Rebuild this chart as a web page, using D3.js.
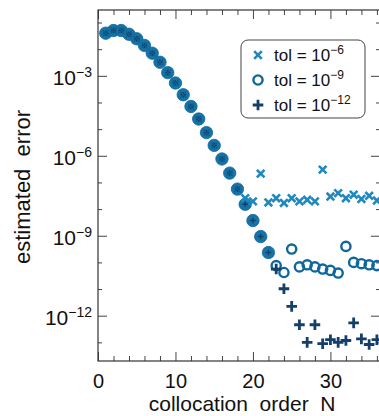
<!DOCTYPE html>
<html>
<head>
<meta charset="utf-8">
<script src="https://cdn.jsdelivr.net/npm/d3@7"></script>
<style>
  body { margin: 0; background: #fff; }
  text { font-family: "Liberation Sans", Arial, sans-serif; fill: #111; }
</style>
</head>
<body>
<div id="chart"></div>
<script>
// collocation order N = 1..36, values are log10 of estimated error
const orders = d3.range(1, 37);
const tol6 = [-1.40, -1.30, -1.30, -1.44, -1.61, -1.86, -2.15, -2.49, -2.88, -3.27,
  -3.71, -4.15, -4.62, -5.13, -5.61, -6.12, -6.65, -7.25, -7.59, -7.71,
  -6.67, -7.75, -7.59, -7.77, -7.59, -7.71, -7.65, -7.71, -6.52, -7.53,
  -7.40, -7.59, -7.46, -7.62, -7.50, -7.68];
const tol9 = [-1.40, -1.30, -1.30, -1.44, -1.61, -1.86, -2.15, -2.49, -2.88, -3.27,
  -3.71, -4.15, -4.62, -5.13, -5.61, -6.12, -6.65, -7.25, -7.82, -8.43,
  -9.03, -9.63, -10.12, -10.38, -9.50, -10.17, -10.09, -10.17, -10.25, -10.30,
  -10.40, -9.40, -10.00, -10.05, -10.09, -10.12];
const tol12 = [-1.40, -1.30, -1.30, -1.44, -1.61, -1.86, -2.15, -2.49, -2.88, -3.27,
  -3.71, -4.15, -4.62, -5.13, -5.61, -6.12, -6.65, -7.25, -7.82, -8.43,
  -9.03, -9.63, -10.25, -10.99, -11.65, -12.34, -13.00, -12.34, -13.05, -12.90,
  -13.00, -12.93, -12.27, -12.87, -13.08, -12.90];
const legendExps = ["6", "9", "12"];
const yMajor = [-3, -6, -9, -12];

const W = 379, H = 416;
const margin = { top: 10, right: -1, bottom: 55, left: 98 };
const width = W - margin.left - margin.right,
      height = H - margin.top - margin.bottom;

const colX = "#1e88bf", colO = "#0f679c", colFill = "#1573a6", colP = "#153f6b";

const svg = d3.select("#chart").append("svg")
    .attr("width", W).attr("height", H)
    .style("overflow", "hidden");
const g = svg.append("g")
    .attr("transform", "translate(" + margin.left + "," + margin.top + ")");

const x = d3.scaleLinear().domain([0, 36.4]).range([0, width]);
const y = d3.scaleLog().domain([Math.pow(10, -13.7), Math.pow(10, -0.53)]).range([height, 0]);

const minorX = d3.range(2, 37, 2).filter(d => d % 10 !== 0);
const majorX = [0, 10, 20, 30];
const minorY = d3.range(-13, 0).filter(d => !yMajor.includes(d)).map(e => Math.pow(10, e));
const majorY = yMajor.map(e => Math.pow(10, e));

function styleAxis(sel) {
  sel.select(".domain").remove();
  sel.selectAll(".tick line").attr("stroke", "#444").attr("stroke-width", 1);
}

// bottom axis
g.append("g").attr("transform", "translate(0," + height + ")")
  .call(d3.axisBottom(x).tickValues(minorX).tickSizeInner(-5).tickSizeOuter(0).tickFormat(""))
  .call(styleAxis);
const xb = g.append("g").attr("transform", "translate(0," + height + ")")
  .call(d3.axisBottom(x).tickValues(majorX).tickSizeInner(-9).tickSizeOuter(0).tickPadding(13))
  .call(styleAxis);
xb.selectAll(".tick text").attr("font-size", 20).attr("fill", "#111")
  .style("font-family", "'Liberation Sans', Arial, sans-serif");

// top axis
g.append("g")
  .call(d3.axisTop(x).tickValues(minorX).tickSizeInner(-5).tickSizeOuter(0).tickFormat(""))
  .call(styleAxis);
g.append("g")
  .call(d3.axisTop(x).tickValues(majorX).tickSizeInner(-9).tickSizeOuter(0).tickFormat(""))
  .call(styleAxis);

// left axis
g.append("g")
  .call(d3.axisLeft(y).tickValues(minorY).tickSizeInner(-4).tickSizeOuter(0).tickFormat(""))
  .call(styleAxis);
const yl = g.append("g")
  .call(d3.axisLeft(y).tickValues(majorY).tickSizeInner(-9).tickSizeOuter(0).tickPadding(6))
  .call(styleAxis);
yl.selectAll(".tick text").each(function (d) {
  const t = d3.select(this);
  const e = Math.round(Math.log10(d));
  t.text(null).attr("font-size", 21).attr("dy", "0.42em").attr("fill", "#111")
    .style("font-family", "'Liberation Sans', Arial, sans-serif");
  t.append("tspan").text("10");
  t.append("tspan").attr("font-size", 14).attr("dy", -8).text("\u2212" + Math.abs(e));
});

// right axis
g.append("g").attr("transform", "translate(" + width + ",0)")
  .call(d3.axisRight(y).tickValues(minorY).tickSizeInner(-4).tickSizeOuter(0).tickFormat(""))
  .call(styleAxis);
g.append("g").attr("transform", "translate(" + width + ",0)")
  .call(d3.axisRight(y).tickValues(majorY).tickSizeInner(-9).tickSizeOuter(0).tickFormat(""))
  .call(styleAxis);

// frame
g.append("rect").attr("width", width).attr("height", height)
  .attr("fill", "none").attr("stroke", "#333").attr("stroke-width", 1.2);

// axis titles
svg.append("text")
  .attr("x", margin.left + x(18.6)).attr("y", 411)
  .attr("text-anchor", "middle").attr("font-size", 21)
  .attr("xml:space", "preserve")
  .text("collocation  order  N");
svg.append("text")
  .attr("transform", "translate(30,187) rotate(-90)")
  .attr("text-anchor", "middle").attr("font-size", 22)
  .attr("xml:space", "preserve")
  .text("estimated  error");

// marker paths
const xPath = s => `M${-s},${-s}L${s},${s}M${-s},${s}L${s},${-s}`;
const pPath = s => `M${-s},0L${s},0M0,${-s}L0,${s}`;

const pts = orders.map((n, i) => ({ n: n, a: tol6[i], b: tol9[i], c: tol12[i] }));
const same = d => Math.abs(d.b - d.c) < 0.05;
const plot = g.append("g");

// tol = 1e-9 circles (solid where all runs coincide)
plot.selectAll("circle.o").data(pts).enter().append("circle")
  .attr("class", "o")
  .attr("cx", d => x(d.n))
  .attr("cy", d => y(Math.pow(10, d.b)))
  .attr("r", d => same(d) ? 6.2 : 4.6)
  .attr("fill", d => same(d) ? colFill : "none")
  .attr("stroke", colO)
  .attr("stroke-width", d => same(d) ? 0.8 : 2.4);

// tol = 1e-12 pluses
plot.selectAll("path.p").data(pts).enter().append("path")
  .attr("class", "p")
  .attr("transform", d => "translate(" + x(d.n) + "," + y(Math.pow(10, d.c)) + ")")
  .attr("d", d => pPath(same(d) ? 2.8 : 5.3))
  .attr("stroke", colP).attr("stroke-width", d => same(d) ? 1.4 : 2.8)
  .attr("fill", "none");

// tol = 1e-6 crosses
plot.selectAll("path.x").data(pts).enter().append("path")
  .attr("class", "x")
  .attr("transform", d => "translate(" + x(d.n) + "," + y(Math.pow(10, d.a)) + ")")
  .attr("d", d => xPath(Math.abs(d.a - d.c) < 0.05 ? 3 : 3.8))
  .attr("stroke", d => Math.abs(d.a - d.c) < 0.05 ? "#0e5d8c" : colX)
  .attr("stroke-width", d => Math.abs(d.a - d.c) < 0.05 ? 1.2 : 2.6)
  .attr("fill", "none");

// legend
const lg = svg.append("g").attr("transform", "translate(241,40)");
lg.append("rect").attr("width", 124).attr("height", 78).attr("rx", 7)
  .attr("fill", "#fff").attr("stroke", "#444").attr("stroke-width", 1);
legendExps.forEach((e, i) => {
  const ry = 15 + i * 25;
  const row = lg.append("g").attr("transform", "translate(17," + ry + ")");
  if (i === 0) row.append("path").attr("d", xPath(3.8)).attr("stroke", colX).attr("stroke-width", 2.6);
  if (i === 1) row.append("circle").attr("r", 4.6).attr("fill", "none").attr("stroke", colO).attr("stroke-width", 2.4);
  if (i === 2) row.append("path").attr("d", pPath(5.3)).attr("stroke", colP).attr("stroke-width", 2.8);
  const t = lg.append("text").attr("x", 33).attr("y", ry + 6).attr("font-size", 17);
  t.append("tspan").text("tol = 10");
  t.append("tspan").attr("font-size", 12).attr("dy", -7).text("\u2212" + e);
});
</script>
</body>
</html>
